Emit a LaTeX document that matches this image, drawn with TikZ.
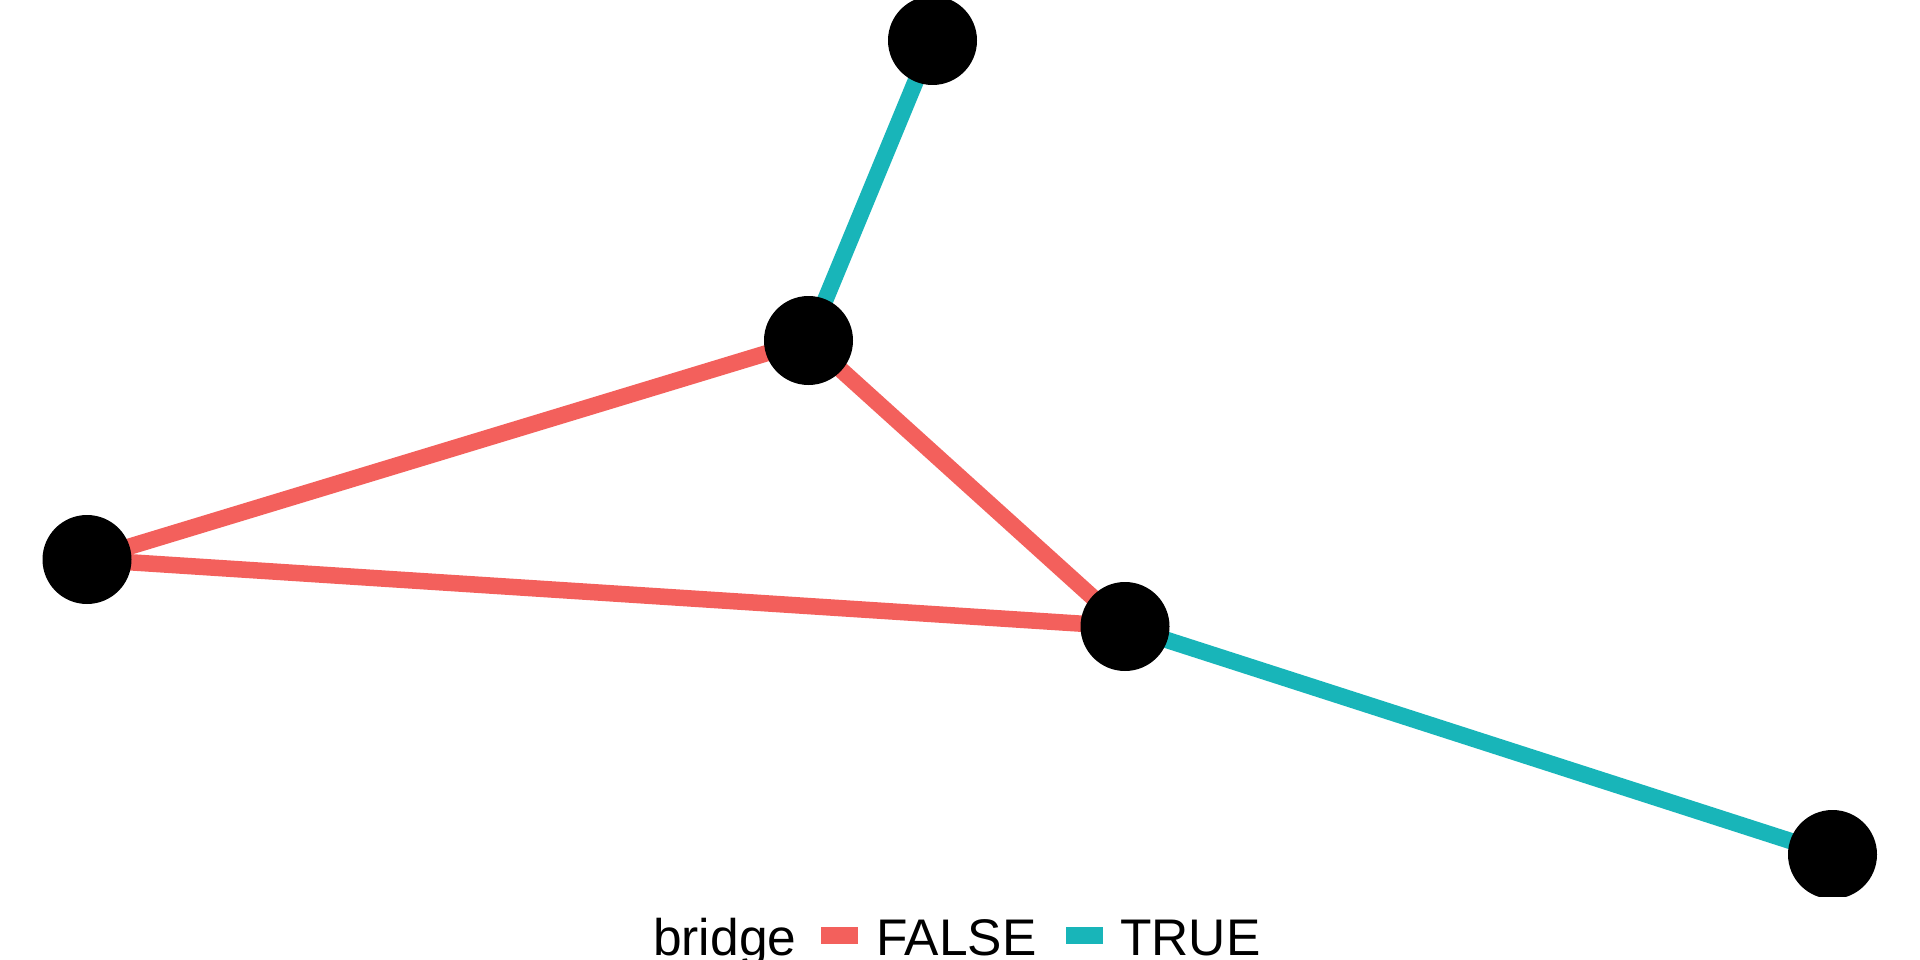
\documentclass[tikz,border=0pt]{standalone}
\usepackage{fontspec}
\setmainfont{Liberation Sans}
\usetikzlibrary{backgrounds}
\definecolor{edgefalse}{HTML}{F3605C}
\definecolor{edgetrue}{HTML}{18B5B9}
\tikzset{
  vertex/.style={circle, fill=black, draw=none, inner sep=0pt, minimum size=89pt},
  falseedge/.style={draw=edgefalse, line width=16.5pt},
  trueedge/.style={draw=edgetrue, line width=16.5pt},
  keybox/.style={rectangle, draw=none, inner sep=0pt, minimum width=37pt, minimum height=17pt},
  legtext/.style={anchor=base west, inner sep=0pt, font=\fontsize{51.5}{60}\selectfont},
}
\begin{document}
\begin{tikzpicture}[x=1pt,y=-1pt]
\useasboundingbox (0,0) rectangle (1920,960);
\begin{scope}
\clip (0,0) rectangle (1920,896);
\node[vertex] (top) at (932.5,40.5) {};
\node[vertex] (mid) at (808.5,340.5) {};
\node[vertex] (left) at (87,559.5) {};
\node[vertex] (hub) at (1125,626.5) {};
\node[vertex] (br) at (1832.5,854.5) {};
\end{scope}
\begin{pgfonlayer}{background}
\fill[white] (0,0) rectangle (1920,960);
\draw[falseedge] (left.center) -- (mid.center);
\draw[falseedge] (left.center) -- (hub.center);
\draw[falseedge] (mid.center) -- (hub.center);
\draw[trueedge] (mid.center) -- (top.center);
\draw[trueedge] (hub.center) -- (br.center);
\end{pgfonlayer}
% legend
\node[legtext] (legtitle) at (653,955) {bridge};
\node[keybox, fill=edgefalse] (keyfalse) at (839.5,935.5) {};
\node[legtext] (labfalse) at (876,955) {FALSE};
\node[keybox, fill=edgetrue] (keytrue) at (1084,935.5) {};
\node[legtext] (labtrue) at (1120,955) {TRUE};
\end{tikzpicture}
\end{document}
